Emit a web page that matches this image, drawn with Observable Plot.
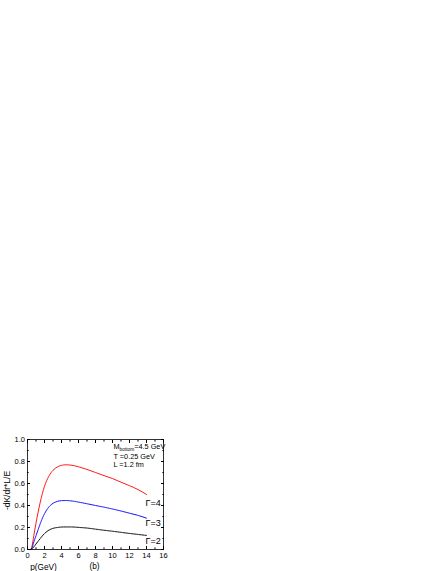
<!DOCTYPE html>
<html>
<head>
<meta charset="utf-8">
<script src="https://cdn.jsdelivr.net/npm/d3@7"></script>
<script src="https://cdn.jsdelivr.net/npm/@observablehq/plot@0.6"></script>
<style>
  html, body { margin: 0; padding: 0; background: #fff; }
  svg { font-family: "Liberation Sans", Arial, sans-serif; }
</style>
</head>
<body>
<div id="chart"></div>
<script>
const p = [0.35,0.5,0.75,1,1.25,1.5,2,2.5,3,3.5,4,4.5,5,5.5,6,7,8,9,10,11,12,13,14];
const gamma4 = [0,0.02,0.13,0.24,0.34,0.43,0.575,0.665,0.72,0.75,0.765,0.77,0.768,0.762,0.752,0.728,0.70,0.672,0.645,0.612,0.58,0.545,0.50];
const gamma3 = [0,0.01,0.07,0.125,0.18,0.235,0.325,0.385,0.42,0.437,0.444,0.445,0.443,0.438,0.431,0.416,0.40,0.385,0.368,0.35,0.33,0.31,0.285];
const gamma2 = [0,0.005,0.025,0.05,0.075,0.10,0.145,0.175,0.192,0.20,0.204,0.205,0.205,0.204,0.201,0.195,0.185,0.175,0.166,0.156,0.146,0.137,0.128];
const seriesNames = ["Γ=4","Γ=3","Γ=2"];
const xMajor = [0,2,4,6,8,10,12,14,16];
const xMinor = [1,3,5,7,9,11,13,15];
const yMajor = [0,0.2,0.4,0.6,0.8,1.0];
const yMinor = [0.1,0.3,0.5,0.7,0.9];

const rows = (vals, name) => p.map((x, i) => ({p: x, v: vals[i], s: name}));
const d4 = rows(gamma4, seriesNames[0]);
const d3s = rows(gamma3, seriesNames[1]);
const d2 = rows(gamma2, seriesNames[2]);

const font = "Liberation Sans, Arial, sans-serif";
const txt = (s, opts) => Plot.text([s], {text: d => d, lineAnchor: "middle", ...opts});
const svg = Plot.plot({
  width: 441,
  height: 571,
  marginLeft: 27,
  marginRight: 278,
  marginTop: 439,
  marginBottom: 22,
  style: {fontFamily: font, background: "#fff"},
  x: {domain: [0, 16]},
  y: {domain: [0, 1]},
  marks: [
    Plot.frame({stroke: "#000", strokeWidth: 0.8}),
    Plot.axisX({anchor: "bottom", ticks: xMajor, tickSize: -3, tickPadding: 6, fontSize: 7.5, label: null, tickFormat: d3.format("d")}),
    Plot.axisX({anchor: "bottom", ticks: xMinor, tickSize: -1.6, fill: "none", label: null}),
    Plot.axisX({anchor: "top", ticks: xMajor, tickSize: -3, fill: "none", label: null}),
    Plot.axisX({anchor: "top", ticks: xMinor, tickSize: -1.6, fill: "none", label: null}),
    Plot.axisY({anchor: "left", ticks: yMajor, tickSize: -3, tickPadding: 5.5, fontSize: 7.5, label: null, tickFormat: d3.format(".1f")}),
    Plot.axisY({anchor: "left", ticks: yMinor, tickSize: -1.6, fill: "none", label: null}),
    Plot.axisY({anchor: "right", ticks: yMajor, tickSize: -3, fill: "none", label: null}),
    Plot.axisY({anchor: "right", ticks: yMinor, tickSize: -1.6, fill: "none", label: null}),
    Plot.line(d4, {x: "p", y: "v", stroke: "#ff0000", strokeWidth: 0.9, curve: "monotone-x"}),
    Plot.line(d3s, {x: "p", y: "v", stroke: "#0000ff", strokeWidth: 0.9, strokeDasharray: "1.5,0.6", curve: "monotone-x"}),
    Plot.line(d2, {x: "p", y: "v", stroke: "#000000", strokeWidth: 0.9, strokeDasharray: "1,0.6", curve: "monotone-x"}),
    txt(seriesNames[0], {frameAnchor: "top-left", dx: 118, dy: 64, textAnchor: "start", fontSize: 9}),
    txt(seriesNames[1], {frameAnchor: "top-left", dx: 118, dy: 84, textAnchor: "start", fontSize: 9}),
    txt(seriesNames[2], {frameAnchor: "top-left", dx: 118, dy: 102, textAnchor: "start", fontSize: 9}),
    txt("M", {frameAnchor: "top-left", dx: 86, dy: 7, textAnchor: "start", fontSize: 7.3}),
    txt("T =0.25 GeV", {frameAnchor: "top-left", dx: 86, dy: 17, textAnchor: "start", fontSize: 7.3}),
    txt("L =1.2 fm", {frameAnchor: "top-left", dx: 86, dy: 25.5, textAnchor: "start", fontSize: 7.3}),
    txt("-dK/dr*L/E", {frameAnchor: "left", dx: -20, dy: -4, rotate: -90, textAnchor: "middle", fontSize: 8.5}),
    txt("p(GeV)", {frameAnchor: "bottom-left", dx: 16, dy: 18, textAnchor: "middle", fontSize: 8.3}),
    txt("(b)", {frameAnchor: "bottom-left", dx: 67, dy: 17, textAnchor: "middle", fontSize: 8.3})
  ]
});
d3.select(svg).selectAll("text").filter(function() { return this.textContent === "M"; }).each(function() {
  const t = d3.select(this);
  t.append("tspan").attr("font-size", 4.8).attr("dy", 2).text("bottom");
  t.append("tspan").attr("dy", -2).text("=4.5 GeV");
});
document.getElementById("chart").appendChild(svg);
</script>
</body>
</html>
